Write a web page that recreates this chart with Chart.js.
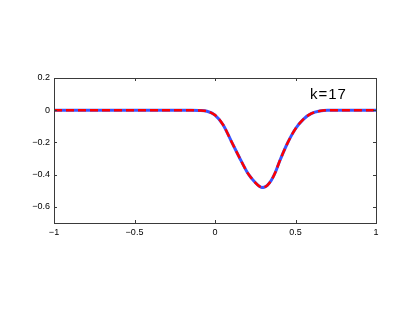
<!DOCTYPE html>
<html>
<head>
<meta charset="utf-8">
<script src="https://cdn.jsdelivr.net/npm/chart.js@4/dist/chart.umd.min.js"></script>
<style>
  body { margin: 0; background: #fff; }
  #wrap { width: 415px; height: 313px; }
</style>
</head>
<body>
<div id="wrap"><canvas id="kChart"></canvas></div>
<script>
// values
const xs = [-1, -0.9, -0.8, -0.7, -0.6, -0.5, -0.4, -0.3, -0.2, -0.15, -0.1, -0.05,
  0, 0.05, 0.1, 0.15, 0.2, 0.225, 0.25, 0.275, 0.29, 0.305, 0.325, 0.35, 0.375, 0.4, 0.45, 0.5, 0.55, 0.6, 0.65, 0.7,
  0.75, 0.8, 0.9, 1];
const ys = [0, 0, 0, 0, 0, 0, 0, 0, 0, 0, -0.001, -0.006,
  -0.03, -0.09, -0.19, -0.29, -0.385, -0.42, -0.449, -0.472, -0.479, -0.478, -0.466, -0.435, -0.385, -0.32, -0.205, -0.115, -0.055, -0.02, -0.005, 0,
  0, 0, 0, 0];
const xTicks = [-1, -0.5, 0, 0.5, 1];
const yTicks = [0.2, 0, -0.2, -0.4, -0.6];
const label = 'k=17';

const pts = xs.map((x, i) => ({ x: x, y: ys[i] }));
const fmt = v => String(v).replace('-', '\u2212');

// box + inward ticks, MATLAB style
const boxPlugin = {
  id: 'box',
  afterDraw(chart) {
    const ctx = chart.ctx;
    const a = chart.chartArea;
    const sx = chart.scales.x, sy = chart.scales.y;
    ctx.save();
    ctx.strokeStyle = '#3a3a3a';
    ctx.lineWidth = 1;
    ctx.strokeRect(a.left + 0.5, a.top + 0.5, a.right - a.left, a.bottom - a.top);
    ctx.beginPath();
    xTicks.forEach(v => {
      const p = Math.round(sx.getPixelForValue(v)) + 0.5;
      ctx.moveTo(p, a.bottom); ctx.lineTo(p, a.bottom - 3);
      ctx.moveTo(p, a.top); ctx.lineTo(p, a.top + 3);
    });
    yTicks.forEach(v => {
      const p = Math.round(sy.getPixelForValue(v)) + 0.5;
      ctx.moveTo(a.left, p); ctx.lineTo(a.left + 3, p);
      ctx.moveTo(a.right, p); ctx.lineTo(a.right - 3, p);
    });
    ctx.stroke();
    ctx.fillStyle = '#000';
    ctx.font = '15px "Liberation Sans", Arial, sans-serif';
    ctx.letterSpacing = '1px';
    ctx.textBaseline = 'alphabetic';
    ctx.fillText(label, sx.getPixelForValue(0.59), sy.getPixelForValue(0.07));
    ctx.restore();
  }
};

new Chart(document.getElementById('kChart'), {
  type: 'line',
  data: {
    datasets: [
      {
        data: pts,
        borderColor: '#ff0000',
        borderWidth: 2.5,
        borderDash: [8, 4],
        pointRadius: 0,
        cubicInterpolationMode: 'monotone'
      },
      {
        data: pts,
        borderColor: '#3a55ff',
        borderWidth: 3,
        pointRadius: 0,
        cubicInterpolationMode: 'monotone'
      }
    ]
  },
  options: {
    responsive: true,
    maintainAspectRatio: false,
    animation: false,
    layout: { padding: { left: 0, right: 39, top: 78, bottom: 70 } },
    plugins: { legend: { display: false }, tooltip: { enabled: false } },
    scales: {
      x: {
        type: 'linear',
        min: -1, max: 1,
        grid: { display: false, drawTicks: false },
        border: { display: false },
        afterBuildTicks: s => { s.ticks = xTicks.map(v => ({ value: v })); },
        afterFit: s => { s.height = 20; },
        ticks: {
          padding: 4,
          color: '#000',
          maxRotation: 0,
          font: { size: 9, family: '"Liberation Sans", Arial, sans-serif' },
          callback: fmt
        }
      },
      y: {
        type: 'linear',
        min: -0.7, max: 0.2,
        grid: { display: false, drawTicks: false },
        border: { display: false },
        afterBuildTicks: s => { s.ticks = yTicks.map(v => ({ value: v })); },
        afterFit: s => { s.width = 54; },
        ticks: {
          padding: 4,
          color: '#000',
          font: { size: 9, family: '"Liberation Sans", Arial, sans-serif' },
          callback: fmt
        }
      }
    }
  },
  plugins: [boxPlugin]
});
</script>
</body>
</html>
